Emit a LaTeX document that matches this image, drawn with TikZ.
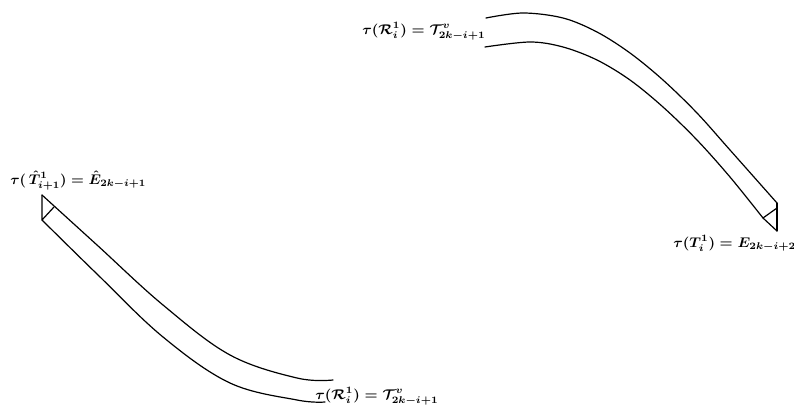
\documentclass[tikz,border=0pt]{standalone}
\usepackage{graphicx}
\usepackage{amsmath}
\begin{document}
\begin{tikzpicture}[x=0.75pt,y=-0.75pt,
  strip/.style={line width=0.9pt,line join=round,line cap=round},
  lab/.style={inner sep=0pt,anchor=base west,font=\boldmath}]
\useasboundingbox (0,0) rectangle (794,407);
% top-right strip
\draw[strip] plot[smooth,tension=0.55] coordinates {(486,18) (523,13) (563,18) (597,32) (630,53) (663,80) (697,113) (730,150) (777,203)};
\draw[strip] plot[smooth,tension=0.55] coordinates {(485,47) (530,42) (563,47) (597,60) (630,80) (663,107) (697,140) (730,177) (763,218)};
\coordinate (rt) at (777,203);
\coordinate (rm) at (777,208);
\coordinate (rb) at (777,231);
\coordinate (rl) at (763,218);
\draw[strip] (rt) -- (rb);
\draw[strip] (rm) -- (rl) -- (rb);
% bottom-left strip
\draw[strip] plot[smooth,tension=0.6] coordinates {(42,195) (97,245) (163,305) (230,355) (297,378) (333,380)};
\draw[strip] plot[smooth,tension=0.6] coordinates {(42,220) (97,274) (163,337) (230,383) (297,400) (325,402)};
\coordinate (lt) at (42,195);
\coordinate (lb) at (42,220);
\coordinate (lm) at (54,207);
\draw[strip] (lt) -- (lb) -- (lm);
% labels
\node[lab] (ltop) at (362,34) {\scalebox{1.1}[1.05]{$\tau(\mathcal{R}_i^1) = \mathcal{T}^v_{2k-i+1}$}};
\node[lab] (lleft) at (10,184) {\scalebox{1.08}[1.05]{$\tau(\,\hat{T}^1_{i+1}) = \hat{E}_{2k-i+1}$}};
\node[lab] (lright) at (673,247) {\scalebox{1.1}[1.05]{$\tau(T_i^1) = E_{2k-i+2}$}};
\node[lab] (lbot) at (315,399) {\scalebox{1.1}[1.05]{$\tau(\mathcal{R}_i^1) = \mathcal{T}^v_{2k-i+1}$}};
\end{tikzpicture}
\end{document}
